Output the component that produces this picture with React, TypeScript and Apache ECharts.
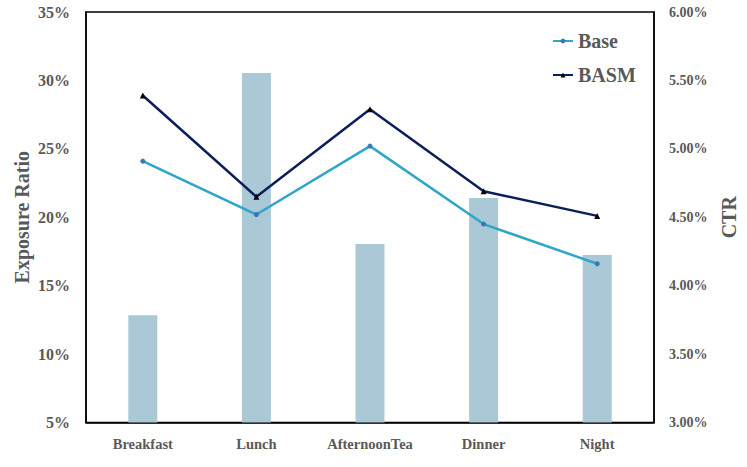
import React, { useEffect, useRef } from "react";
import * as echarts from "echarts";

const categories = ["Breakfast", "Lunch", "AfternoonTea", "Dinner", "Night"];
const exposureRatio = [12.83, 30.54, 18.04, 21.41, 17.24];
const baseCtr = [4.91, 4.52, 5.02, 4.45, 4.16];
const basmCtr = [5.39, 4.65, 5.29, 4.69, 4.51];

const FONT = '"Liberation Serif", "Times New Roman", serif';
const GREY = "#595959";

export default function App() {
  const ref = useRef<HTMLDivElement>(null);
  useEffect(() => {
    document.body.style.margin = "0";
    const chart = echarts.init(ref.current!, null, { renderer: "svg" });
    chart.setOption({
      animation: false,
      textStyle: { fontFamily: FONT },
      grid: {
        left: 86,
        right: 91.5,
        top: 12,
        bottom: 44.5,
        show: true,
        borderColor: "#000",
        borderWidth: 1.5,
      },
      legend: {
        data: ["Base", "BASM"],
        orient: "vertical",
        left: 547,
        top: 26,
        itemGap: 14,
        itemWidth: 20,
        itemHeight: 6,
        textStyle: { fontFamily: FONT, fontWeight: "bold", fontSize: 20, color: GREY },
      },
      xAxis: {
        type: "category",
        data: categories,
        axisLine: { lineStyle: { color: "#000", width: 1.5 } },
        axisTick: { show: false },
        axisLabel: { interval: 0, fontFamily: FONT, fontWeight: "bold", fontSize: 14.5, color: GREY, margin: 14 },
      },
      yAxis: [
        {
          type: "value",
          min: 5,
          max: 35,
          interval: 5,
          name: "Exposure Ratio",
          nameLocation: "middle",
          nameRotate: 90,
          nameGap: 54,
          nameMoveOverlap: false,
          nameTextStyle: { fontFamily: FONT, fontWeight: "bold", fontSize: 20, color: GREY },
          axisLine: { show: true, lineStyle: { color: "#000", width: 1.5 } },
          axisTick: { show: false },
          splitLine: { show: false },
          axisLabel: {
            fontFamily: FONT,
            fontWeight: "bold",
            fontSize: 16,
            color: GREY,
            margin: 16,
            formatter: (v: number) => `${v}%`,
          },
        },
        {
          type: "value",
          min: 3,
          max: 6,
          interval: 0.5,
          name: "CTR",
          nameLocation: "middle",
          nameRotate: 90,
          nameGap: 65,
          nameMoveOverlap: false,
          nameTextStyle: { fontFamily: FONT, fontWeight: "bold", fontSize: 20, color: GREY },
          axisLine: { show: true, lineStyle: { color: "#000", width: 1.5 } },
          axisTick: { show: false },
          splitLine: { show: false },
          axisLabel: {
            fontFamily: FONT,
            fontWeight: "bold",
            fontSize: 14,
            color: GREY,
            margin: 15,
            formatter: (v: number) => `${v.toFixed(2)}%`,
          },
        },
      ],
      series: [
        {
          name: "Exposure",
          type: "bar",
          data: exposureRatio,
          yAxisIndex: 0,
          barWidth: 29,
          itemStyle: { color: "#ABC8D7" },
        },
        {
          name: "Base",
          type: "line",
          data: baseCtr,
          yAxisIndex: 1,
          symbol: "circle",
          symbolSize: 5,
          lineStyle: { color: "#2EA6C7", width: 2.5 },
          itemStyle: { color: "#3B78B0" },
        },
        {
          name: "BASM",
          type: "line",
          data: basmCtr,
          yAxisIndex: 1,
          symbol: "triangle",
          symbolSize: 6,
          lineStyle: { color: "#0B1F5C", width: 2.5 },
          itemStyle: { color: "#000" },
        },
      ],
    });
    return () => chart.dispose();
  }, []);
  return <div ref={ref} style={{ width: 747, height: 467 }} />;
}
